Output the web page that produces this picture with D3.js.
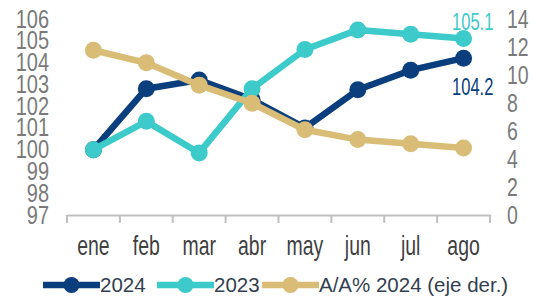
<!DOCTYPE html>
<html>
<head>
<meta charset="utf-8">
<script src="https://cdn.jsdelivr.net/npm/d3@7"></script>
<style>
  html, body { margin: 0; padding: 0; background: #fff; }
  svg { display: block; font-family: "Liberation Sans", Arial, sans-serif; }
</style>
</head>
<body>
<svg id="chart" width="533" height="298"></svg>
<script>
// months on the x axis
var months = ["ene", "feb", "mar", "abr", "may", "jun", "jul", "ago"];
// index values (left axis)
var idx2024 = [100, 102.8, 103.2, 102.3, 101.0, 102.75, 103.65, 104.2];
var idx2023 = [100, 101.3, 99.85, 102.8, 104.6, 105.5, 105.3, 105.1];
// year over year % (right axis)
var yoy2024 = [11.8, 10.9, 9.3, 8.0, 6.1, 5.4, 5.1, 4.8];
var leftTicks = [97, 98, 99, 100, 101, 102, 103, 104, 105, 106];
var rightTicks = [0, 2, 4, 6, 8, 10, 12, 14];

var navy = "#0a3e7c", teal = "#3ccaca", tan = "#d9bd77";

var svg = d3.select("#chart");
var x = d3.scaleBand().domain(months).range([67, 490]);
var yL = d3.scaleLinear().domain([97, 106]).range([215, 19]);
var yR = d3.scaleLinear().domain([0, 14]).range([215, 19.5]);

// narrow look of the axis labels
function narrow(sel, sx) { sel.attr("transform", "scale(" + sx + ",1)"); }

// x axis
var xAxis = svg.append("g").attr("transform", "translate(0,215)")
  .call(d3.axisBottom(x).tickSize(0));
xAxis.select(".domain").attr("stroke", "#c0c0c0").attr("stroke-width", 2);
xAxis.selectAll("text").attr("font-size", 27).attr("fill", "#3f3f3f").attr("font-family", null)
  .attr("y", 40).attr("dy", 0).call(narrow, 0.72);
// tick marks between categories
var bounds = months.map(function (m) { return x(m); }).concat([x.range()[1]]);
xAxis.selectAll("line.sep").data(bounds).enter().append("line").attr("class", "sep")
  .attr("x1", function (d) { return d; }).attr("x2", function (d) { return d; })
  .attr("y1", 0).attr("y2", 8).attr("stroke", "#c0c0c0").attr("stroke-width", 2);

// left axis
var lAxis = svg.append("g").attr("transform", "translate(49,0)")
  .call(d3.axisLeft(yL).tickValues(leftTicks).tickSize(0).tickPadding(0));
lAxis.select(".domain").remove();
lAxis.selectAll("text").attr("font-size", 25).attr("fill", "#7a7a7a").attr("font-family", null)
  .call(narrow, 0.8);

// right axis
var rAxis = svg.append("g").attr("transform", "translate(507,0)")
  .call(d3.axisRight(yR).tickValues(rightTicks).tickSize(0).tickPadding(0));
rAxis.select(".domain").remove();
rAxis.selectAll("text").attr("font-size", 25).attr("fill", "#7a7a7a").attr("font-family", null)
  .call(narrow, 0.78);

function cx(d, i) { return x(months[i]) + x.bandwidth() / 2; }

function series(vals, y, color) {
  var line = d3.line().x(cx).y(function (d) { return y(d); });
  svg.append("path").datum(vals).attr("d", line).attr("fill", "none")
    .attr("stroke", color).attr("stroke-width", 6.5).attr("stroke-linejoin", "round");
  svg.append("g").selectAll("circle").data(vals).enter().append("circle")
    .attr("cx", cx).attr("cy", function (d) { return y(d); })
    .attr("r", 8.5).attr("fill", color);
}
series(idx2024, yL, navy);
series(idx2023, yL, teal);
series(yoy2024, yR, tan);

// end labels
svg.append("text").attr("transform", "translate(452,22) scale(0.72,1)").attr("dy", "0.35em")
  .attr("font-size", 23).attr("fill", teal).text(idx2023[7].toFixed(1));
svg.append("text").attr("transform", "translate(452,87) scale(0.72,1)").attr("dy", "0.35em")
  .attr("font-size", 23).attr("fill", navy).text(idx2024[7].toFixed(1));

// legend
var legend = [
  { name: "2024", color: navy, x0: 43 },
  { name: "2023", color: teal, x0: 157 },
  { name: "A/A% 2024 (eje der.)", color: tan, x0: 262 }
];
var lg = svg.append("g").attr("transform", "translate(0,285)");
legend.forEach(function (d) {
  lg.append("line").attr("x1", d.x0).attr("x2", d.x0 + 57).attr("y1", 0).attr("y2", 0)
    .attr("stroke", d.color).attr("stroke-width", 6.5);
  lg.append("circle").attr("cx", d.x0 + 28.5).attr("cy", 0).attr("r", 8).attr("fill", d.color);
  lg.append("text").attr("x", d.x0 + 57).attr("y", 0).attr("dy", "0.36em")
    .attr("font-size", 20.5).attr("fill", "#333f50").text(d.name);
});
</script>
</body>
</html>
